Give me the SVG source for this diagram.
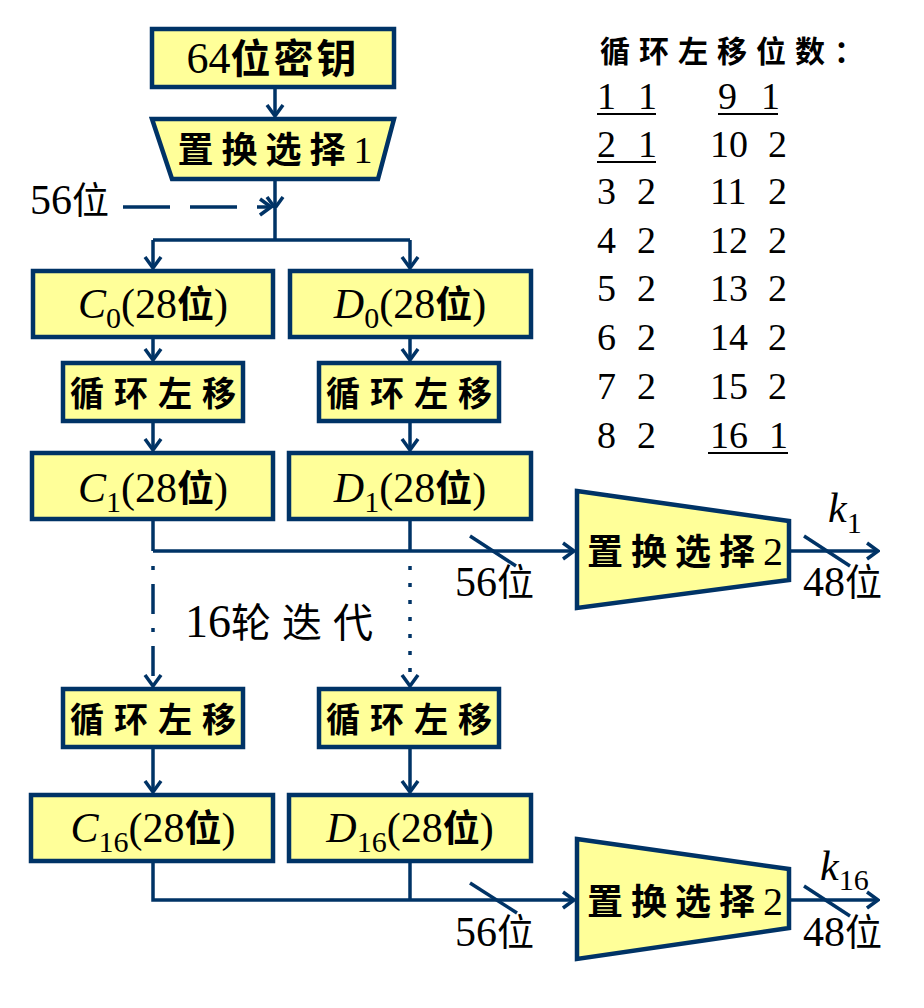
<svg xmlns="http://www.w3.org/2000/svg" width="924" height="1008" viewBox="0 0 924 1008" font-family="Liberation Serif, Times New Roman, serif">
<style>
.box{fill:#FFFF99;stroke:#003366;stroke-width:4.5}
.ln{fill:none;stroke:#003366;stroke-width:3.5}
.arr{marker-end:url(#ah)}
.t{fill:#000}
.c{font-family:'Noto Sans CJK SC','Noto Sans CJK JP',sans-serif}
.k{font-family:'Noto Sans CJK SC','Noto Sans CJK JP',sans-serif;font-weight:bold;fill:#000}
.it{font-style:italic}
.ul{stroke:#000;stroke-width:2}
</style>
<defs>
<marker id="ah" markerUnits="userSpaceOnUse" viewBox="0 0 14 20" markerWidth="14" markerHeight="20" refX="12" refY="10" orient="auto">
<path d="M1,2 L12,10 L1,18" fill="none" stroke="#003366" stroke-width="3.5"/>
</marker>
</defs>
<rect width="924" height="1008" fill="#fff"/>

<g id="connectors">
<line class="ln arr" x1="275" y1="89" x2="275" y2="116"/>
<line class="ln arr" x1="275" y1="181" x2="275" y2="208"/>
<line class="ln arr" x1="123" y1="207" x2="271" y2="207" stroke-dasharray="47,20"/>
<polyline class="ln" points="275,209 275,240"/>
<polyline class="ln" points="153,240 410,240"/>
<line class="ln arr" x1="153" y1="240" x2="153" y2="268"/>
<line class="ln arr" x1="410" y1="240" x2="410" y2="268"/>
<line class="ln arr" x1="153" y1="339" x2="153" y2="360"/>
<line class="ln arr" x1="410" y1="339" x2="410" y2="360"/>
<line class="ln arr" x1="153" y1="423" x2="153" y2="450"/>
<line class="ln arr" x1="410" y1="423" x2="410" y2="450"/>
<polyline class="ln" points="153,521 153,551"/>
<polyline class="ln" points="410,521 410,551"/>
<line class="ln arr" x1="153" y1="551" x2="574" y2="551"/>
<line class="ln arr" x1="153" y1="566" x2="153" y2="686" stroke-dasharray="4,14,30,14"/>
<line class="ln arr" x1="410" y1="566" x2="410" y2="686" stroke-dasharray="4,13"/>
<line class="ln arr" x1="153" y1="749" x2="153" y2="792"/>
<line class="ln arr" x1="410" y1="749" x2="410" y2="792"/>
<polyline class="ln" points="153,863 153,900 410,900"/>
<polyline class="ln" points="410,863 410,900"/>
<line class="ln arr" x1="410" y1="900" x2="574" y2="900"/>
<line class="ln arr" x1="791" y1="551" x2="878" y2="551"/>
<line class="ln arr" x1="791" y1="900" x2="878" y2="900"/>
<line class="ln" x1="470" y1="536" x2="516" y2="566"/>
<line class="ln" x1="804" y1="536" x2="850" y2="566"/>
<line class="ln" x1="470" y1="883" x2="517" y2="913"/>
<line class="ln" x1="804" y1="886" x2="850" y2="916"/>
</g>

<g id="key64">
<rect class="box" x="152" y="29" width="242" height="58"/>
<text class="t" x="273" y="73" font-size="44" text-anchor="middle">64<tspan class="k" font-size="40" letter-spacing="3">位密钥</tspan></text>
</g>

<g id="pc1">
<polygon class="box" points="152,119 394,119 378,179 172,179"/>
<text class="t" x="275" y="163" font-size="38" text-anchor="middle"><tspan class="k" font-size="36" letter-spacing="8">置换选择</tspan>1</text>
</g>

<g id="lbl56top">
<text class="t" x="30" y="214" font-size="42">56<tspan class="c" font-size="37">位</tspan></text>
</g>

<g id="c0">
<rect class="box" x="33" y="271" width="240" height="66"/>
<text class="t" x="153" y="318" font-size="42" text-anchor="middle"><tspan class="it">C</tspan><tspan font-size="30" dy="10">0</tspan><tspan dy="-10">(28</tspan><tspan class="k" font-size="37">位</tspan>)</text>
</g>
<g id="d0">
<rect class="box" x="290" y="271" width="241" height="66"/>
<text class="t" x="410" y="318" font-size="42" text-anchor="middle"><tspan class="it">D</tspan><tspan font-size="30" dy="10">0</tspan><tspan dy="-10">(28</tspan><tspan class="k" font-size="37">位</tspan>)</text>
</g>

<g id="shiftL1">
<rect class="box" x="63" y="363" width="180" height="58"/>
<text class="k" x="158" y="406" font-size="34" text-anchor="middle" letter-spacing="10">循环左移</text>
</g>
<g id="shiftR1">
<rect class="box" x="319" y="363" width="180" height="58"/>
<text class="k" x="414" y="406" font-size="34" text-anchor="middle" letter-spacing="10">循环左移</text>
</g>

<g id="c1">
<rect class="box" x="32" y="453" width="241" height="66"/>
<text class="t" x="153" y="502" font-size="42" text-anchor="middle"><tspan class="it">C</tspan><tspan font-size="30" dy="10">1</tspan><tspan dy="-10">(28</tspan><tspan class="k" font-size="37">位</tspan>)</text>
</g>
<g id="d1">
<rect class="box" x="289" y="453" width="242" height="66"/>
<text class="t" x="410" y="502" font-size="42" text-anchor="middle"><tspan class="it">D</tspan><tspan font-size="30" dy="10">1</tspan><tspan dy="-10">(28</tspan><tspan class="k" font-size="37">位</tspan>)</text>
</g>

<g id="pc2a">
<polygon class="box" points="577,491 789,521 789,580 577,608"/>
<text class="t" x="685" y="565" font-size="40" text-anchor="middle"><tspan class="k" font-size="36" letter-spacing="8">置换选择</tspan>2</text>
</g>
<g id="lbl56a"><text class="t" x="455" y="596" font-size="42">56<tspan class="c" font-size="37">位</tspan></text></g>
<g id="lblk1"><text class="t" x="828" y="522" font-size="42"><tspan class="it">k</tspan><tspan font-size="30" dy="11">1</tspan></text></g>
<g id="lbl48a"><text class="t" x="803" y="596" font-size="42">48<tspan class="c" font-size="37">位</tspan></text></g>

<g id="rounds"><text class="t" x="185" y="637" font-size="46">16<tspan class="c" font-size="40" letter-spacing="11">轮迭代</tspan></text></g>

<g id="shiftL16">
<rect class="box" x="63" y="689" width="180" height="58"/>
<text class="k" x="158" y="732" font-size="34" text-anchor="middle" letter-spacing="10">循环左移</text>
</g>
<g id="shiftR16">
<rect class="box" x="319" y="689" width="180" height="58"/>
<text class="k" x="414" y="732" font-size="34" text-anchor="middle" letter-spacing="10">循环左移</text>
</g>

<g id="c16">
<rect class="box" x="31" y="795" width="242" height="66"/>
<text class="t" x="153" y="842" font-size="42" text-anchor="middle"><tspan class="it">C</tspan><tspan font-size="30" dy="10">16</tspan><tspan dy="-10">(28</tspan><tspan class="k" font-size="37">位</tspan>)</text>
</g>
<g id="d16">
<rect class="box" x="289" y="795" width="242" height="66"/>
<text class="t" x="410" y="842" font-size="42" text-anchor="middle"><tspan class="it">D</tspan><tspan font-size="30" dy="10">16</tspan><tspan dy="-10">(28</tspan><tspan class="k" font-size="37">位</tspan>)</text>
</g>

<g id="pc2b">
<polygon class="box" points="577,839 789,869 789,928 577,959"/>
<text class="t" x="685" y="915" font-size="40" text-anchor="middle"><tspan class="k" font-size="36" letter-spacing="8">置换选择</tspan>2</text>
</g>
<g id="lbl56b"><text class="t" x="455" y="946" font-size="42">56<tspan class="c" font-size="37">位</tspan></text></g>
<g id="lblk16"><text class="t" x="820" y="880" font-size="42"><tspan class="it">k</tspan><tspan font-size="30" dy="10">16</tspan></text></g>
<g id="lbl48b"><text class="t" x="803" y="946" font-size="42">48<tspan class="c" font-size="37">位</tspan></text></g>

<g id="table">
<text class="k" x="600" y="62" font-size="30" letter-spacing="9">循环左移位数：</text>
<g class="t" font-size="38">
<text x="597" y="109">1</text><text x="638" y="109">1</text><text x="718" y="109">9</text><text x="761" y="109">1</text>
<text x="597" y="157">2</text><text x="638" y="157">1</text><text x="710" y="157">10</text><text x="768" y="157">2</text>
<text x="597" y="204">3</text><text x="637" y="204">2</text><text x="710" y="204">11</text><text x="768" y="204">2</text>
<text x="597" y="253">4</text><text x="637" y="253">2</text><text x="710" y="253">12</text><text x="768" y="253">2</text>
<text x="597" y="301">5</text><text x="637" y="301">2</text><text x="710" y="301">13</text><text x="768" y="301">2</text>
<text x="597" y="350">6</text><text x="637" y="350">2</text><text x="710" y="350">14</text><text x="768" y="350">2</text>
<text x="597" y="399">7</text><text x="637" y="399">2</text><text x="710" y="399">15</text><text x="768" y="399">2</text>
<text x="597" y="448">8</text><text x="637" y="448">2</text><text x="710" y="448">16</text><text x="769" y="448">1</text>
</g>
<line class="ul" x1="597" y1="114" x2="656" y2="114"/>
<line class="ul" x1="718" y1="114" x2="778" y2="114"/>
<line class="ul" x1="597" y1="162" x2="656" y2="162"/>
<line class="ul" x1="708" y1="453" x2="788" y2="453"/>
</g>
</svg>
